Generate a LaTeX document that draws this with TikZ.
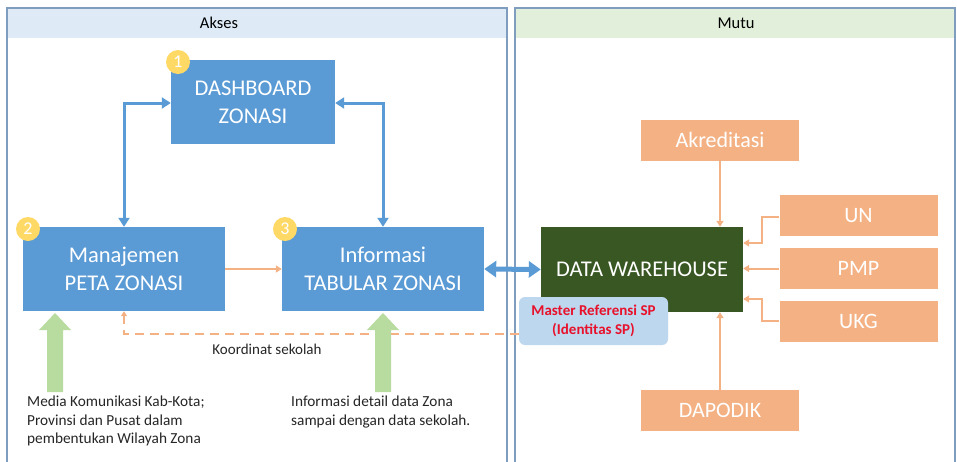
\documentclass[tikz,border=0pt]{standalone}
\usepackage{fontspec}
\setmainfont{Carlito}
\usetikzlibrary{arrows.meta}
\definecolor{bluebox}{HTML}{5B9BD5}
\definecolor{orangebox}{HTML}{F4B183}
\definecolor{dwgreen}{HTML}{385723}
\definecolor{aksesbg}{HTML}{DEEAF6}
\definecolor{mutubg}{HTML}{E2EFDA}
\definecolor{panelline}{HTML}{7F9DBF}
\definecolor{circ}{HTML}{FFD966}
\definecolor{greenarr}{HTML}{B8DCA0}
\definecolor{masterbg}{HTML}{BDD7EE}
\definecolor{redtxt}{HTML}{E8102A}
\tikzset{
  bluenode/.style={fill=bluebox, text=white, minimum width=#1, minimum height=84pt, inner sep=0pt, align=center, font=\fontsize{22.5}{28}\selectfont},
  orangenode/.style={fill=orangebox, text=white, minimum width=158pt, minimum height=41pt, inner sep=0pt, font=\fontsize{22}{24}\selectfont},
  numcirc/.style={circle, fill=circ, text=white, minimum size=24pt, inner sep=0pt, font=\fontsize{18}{18}\selectfont},
  bluearr/.style={draw=bluebox, line width=3pt, {Triangle[length=9pt,width=11pt]}-{Triangle[length=9pt,width=11pt]}},
  orangearr/.style={draw=orangebox, line width=2pt, -{Triangle[length=6pt,width=7pt]}},
  smalltext/.style={font=\fontsize{15.3}{18.5}\selectfont, align=left, text=black!85},
}
\begin{document}
\begin{tikzpicture}[x=1pt,y=-1pt]
\fill[white] (0,0) rectangle (957,461);
\useasboundingbox (0,0) rectangle (957,461);
% panels
\fill[aksesbg] (7,8) rectangle (507,38);
\fill[mutubg] (515,8) rectangle (955,38);
\draw[panelline, line width=1.2pt] (7,470) -- (7,8) -- (507,8) -- (507,470);
\draw[panelline, line width=1.2pt] (515,470) -- (515,8) -- (955,8) -- (955,470);
\node[font=\fontsize{16.5}{16}\selectfont] (akses) at (219,23) {Akses};
\node[font=\fontsize{16.5}{16}\selectfont] (mutu) at (736,23) {Mutu};
% blue boxes
\node[bluenode=164pt] (dash) at (253,102) {DASHBOARD\\ZONASI};
\node[bluenode=202pt] (mana) at (124,269) {Manajemen\\PETA ZONASI};
\node[bluenode=202pt] (info) at (383,269) {Informasi\\TABULAR ZONASI};
\node[numcirc] (c1) at (178,62) {1};
\node[numcirc] (c2) at (28,229) {2};
\node[numcirc] (c3) at (285,229) {3};
% data warehouse
\node[fill=dwgreen, text=white, minimum width=202pt, minimum height=85pt, inner sep=0pt, font=\fontsize{22.5}{26}\selectfont] (dw) at (642,269.5) {DATA WAREHOUSE};
\node[fill=masterbg, rounded corners=6pt, minimum width=149pt, minimum height=48pt, inner sep=0pt, align=center, text=redtxt, font=\bfseries\fontsize{15}{19}\selectfont] (master) at (593.5,321) {Master Referensi SP\\(Identitas SP)};
% orange boxes
\node[orangenode] (akr) at (720,140) {Akreditasi};
\node[orangenode] (un) at (858.5,215.5) {UN};
\node[orangenode] (pmp) at (858.5,268.5) {PMP};
\node[orangenode] (ukg) at (858.5,321.5) {UKG};
\node[orangenode] (dap) at (720,410.5) {DAPODIK};
% blue connectors
\draw[bluearr] (dash.west |- 0,103) -| (mana.north -| 124,0);
\draw[bluearr] (dash.east |- 0,103) -| (info.north -| 383,0);
\draw[draw=bluebox, line width=5pt, {Triangle[length=12pt,width=16pt]}-{Triangle[length=12pt,width=16pt]}] (info.east) -- (dw.west);
% orange connectors
\draw[orangearr] (mana.east) -- (info.west);
\draw[orangearr] (akr.south) -- (akr.south |- dw.north);
\draw[orangearr] (dap.north) -- (dap.north |- dw.south);
\draw[orangearr] (pmp.west) -- (pmp.west -| dw.east);
\coordinate (unj) at (762,217);
\draw[orangearr] (un.west |- unj) -- (unj) |- (dw.east |- 0,243);
\coordinate (ukj) at (762,321);
\draw[orangearr] (ukg.west |- ukj) -- (ukj) |- (dw.east |- 0,299);
% dashed
\coordinate (dsh) at (124,334);
\draw[orangebox, line width=1.5pt, dash pattern=on 9pt off 6pt, -{Triangle[length=5pt,width=6pt]}] (master.west |- 0,334) -- (dsh) -- (mana.south);
\node[font=\fontsize{15}{15}\selectfont, text=black!85] (koord) at (267,349) {Koordinat sekolah};
% green arrows
\fill[greenarr] (55,313) -- (71,330) -- (63,330) -- (63,392) -- (47,392) -- (47,330) -- (39,330) -- cycle;
\fill[greenarr] (383,313) -- (399,330) -- (391,330) -- (391,392) -- (375,392) -- (375,330) -- (367,330) -- cycle;
% texts
\node[smalltext, anchor=north west, inner sep=0pt] (t1) at (27,396) {Media Komunikasi Kab-Kota;\\Provinsi dan Pusat dalam\\pembentukan Wilayah Zona};
\node[smalltext, anchor=north west, inner sep=0pt] (t2) at (291,396) {Informasi detail data Zona\\sampai dengan data sekolah.};
\end{tikzpicture}
\end{document}
